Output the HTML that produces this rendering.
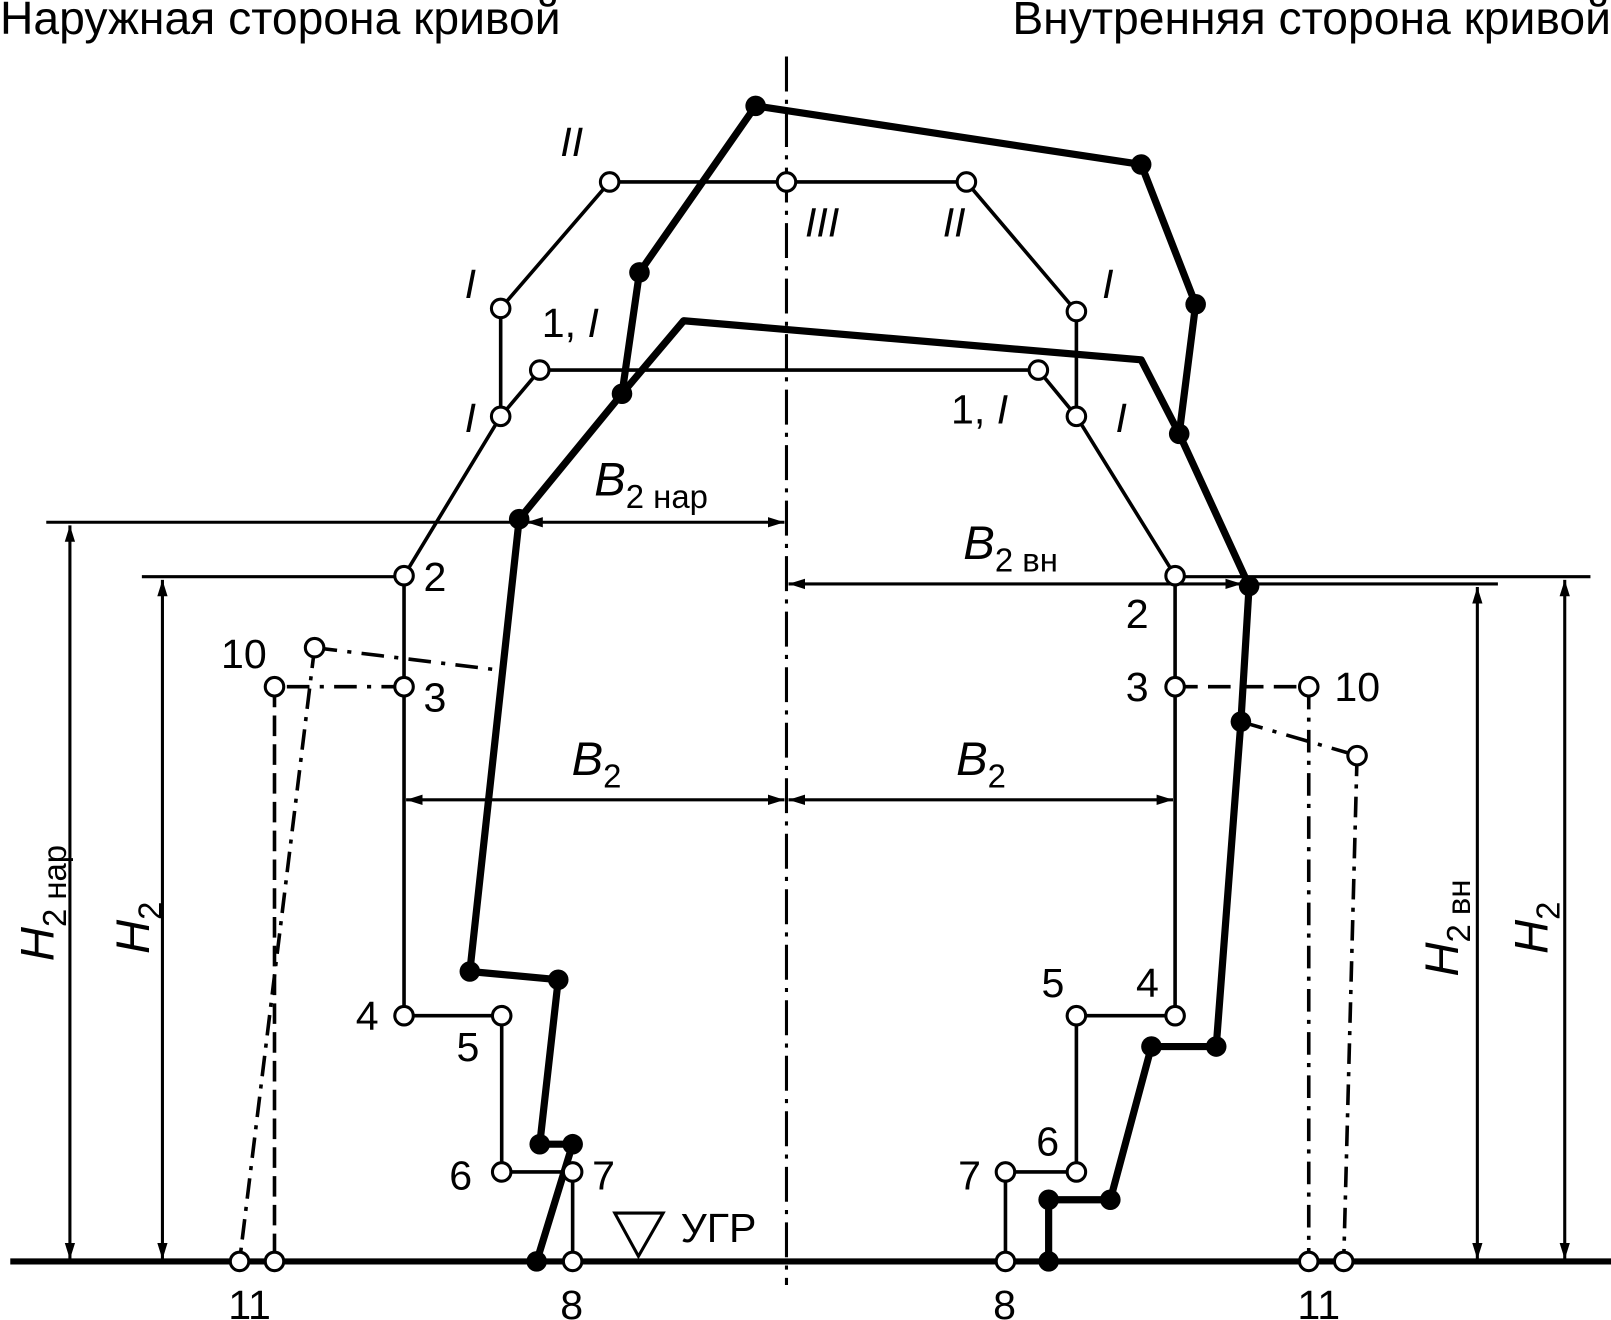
<!DOCTYPE html>
<html><head><meta charset="utf-8"><style>html,body{margin:0;padding:0;background:#fff}svg{display:block}</style></head>
<body>
<svg width="1611" height="1320" viewBox="0 0 1567 1284" preserveAspectRatio="none" xmlns="http://www.w3.org/2000/svg" font-family="Liberation Sans, sans-serif">
<defs>
<marker id="b" markerWidth="16" markerHeight="30" refX="16" refY="5" orient="auto-start-reverse" markerUnits="userSpaceOnUse" viewBox="0 0 16 10"><path d="M0,0 L16,5 L0,10 Z"/></marker>
</defs>
<g fill="#000" font-size="45">
<text x="0" y="33">Наружная сторона кривой</text>
<text x="1567" y="33" text-anchor="end">Внутренняя сторона кривой</text>
</g>
<line x1="765" y1="55" x2="765" y2="1250" stroke="#000" stroke-width="3" stroke-dasharray="34,8,4,8"/>
<line x1="10" y1="1227" x2="1567" y2="1227" stroke="#000" stroke-width="6"/>
<g stroke="#000" stroke-width="3" fill="none">
<line x1="45" y1="508" x2="505" y2="508"/>
<line x1="138" y1="561" x2="393" y2="561"/>
<line x1="1143" y1="561" x2="1547" y2="561"/>
<line x1="1215" y1="568" x2="1457" y2="568"/>
</g>
<g stroke="#000" stroke-width="3" fill="none" marker-start="url(#b)" marker-end="url(#b)">
<line x1="68" y1="1225" x2="68" y2="511"/>
<line x1="158" y1="1225" x2="158" y2="564"/>
<line x1="1437" y1="1225" x2="1437" y2="571"/>
<line x1="1522" y1="1225" x2="1522" y2="564"/>
<line x1="512" y1="508" x2="763" y2="508"/>
<line x1="767" y1="568" x2="1208" y2="568"/>
<line x1="395" y1="778" x2="763" y2="778"/>
<line x1="767" y1="778" x2="1141" y2="778"/>
</g>
<g stroke="#000" stroke-width="3.5" fill="none">
<polyline points="557,1227 557,1140 488,1140 488,988 393,988 393,560 487,405 525,360 1010,360 1047,405 1143,560 1143,988 1047,988 1047,1140 978,1140 978,1227"/>
<polyline points="487,405 487,300 593,177 940,177 1047,303 1047,405"/>
</g>
<g stroke="#000" stroke-width="3.5" fill="none">
<line x1="393" y1="668" x2="267" y2="668" stroke-dasharray="22,10,4,10"/>
<line x1="267" y1="668" x2="267" y2="1227" stroke-dasharray="20,8"/>
<line x1="306" y1="630" x2="487" y2="652" stroke-dasharray="22,10,4,10"/>
<line x1="306" y1="630" x2="233" y2="1227" stroke-dasharray="20,8,4,8"/>
<line x1="1143" y1="668" x2="1273" y2="668" stroke-dasharray="22,10"/>
<line x1="1273" y1="668" x2="1273" y2="1227" stroke-dasharray="22,8,4,8"/>
<line x1="1207" y1="702" x2="1320" y2="735" stroke-dasharray="22,10,4,10"/>
<line x1="1320" y1="735" x2="1307" y2="1227" stroke-dasharray="20,8,4,8"/>
</g>
<g stroke="#000" stroke-width="7" fill="none" stroke-linejoin="round">
<polyline points="605,383 622,265 735,103 1110,160 1163,296 1147,422"/>
<polyline points="522,1227 557,1113 525,1113 543,953 457,945 505,505 605,383 665,312 1110,350 1147,422 1215,570 1207,702 1183,1018 1120,1018 1080,1167 1020,1167 1020,1227"/>
</g>
<g fill="#000">
<circle cx="735" cy="103" r="10"/><circle cx="1110" cy="160" r="10"/><circle cx="1163" cy="296" r="10"/>
<circle cx="622" cy="265" r="10"/><circle cx="605" cy="383" r="10"/><circle cx="1147" cy="422" r="10"/>
<circle cx="505" cy="505" r="10"/><circle cx="1215" cy="570" r="10"/><circle cx="1207" cy="702" r="10"/>
<circle cx="457" cy="945" r="10"/><circle cx="543" cy="953" r="10"/><circle cx="525" cy="1113" r="10"/><circle cx="557" cy="1113" r="10"/><circle cx="522" cy="1227" r="10"/>
<circle cx="1183" cy="1018" r="10"/><circle cx="1120" cy="1018" r="10"/><circle cx="1080" cy="1167" r="10"/><circle cx="1020" cy="1167" r="10"/><circle cx="1020" cy="1227" r="10"/>
</g>
<g fill="#fff" stroke="#000" stroke-width="3">
<circle cx="593" cy="177" r="9"/><circle cx="765" cy="177" r="9"/><circle cx="940" cy="177" r="9"/>
<circle cx="487" cy="300" r="9"/><circle cx="1047" cy="303" r="9"/>
<circle cx="525" cy="360" r="9"/><circle cx="1010" cy="360" r="9"/>
<circle cx="487" cy="405" r="9"/><circle cx="1047" cy="405" r="9"/>
<circle cx="393" cy="560" r="9"/><circle cx="1143" cy="560" r="9"/>
<circle cx="306" cy="630" r="9"/><circle cx="267" cy="668" r="9"/><circle cx="393" cy="668" r="9"/>
<circle cx="1143" cy="668" r="9"/><circle cx="1273" cy="668" r="9"/><circle cx="1320" cy="735" r="9"/>
<circle cx="393" cy="988" r="9"/><circle cx="488" cy="988" r="9"/><circle cx="1143" cy="988" r="9"/><circle cx="1047" cy="988" r="9"/>
<circle cx="488" cy="1140" r="9"/><circle cx="557" cy="1140" r="9"/><circle cx="1047" cy="1140" r="9"/><circle cx="978" cy="1140" r="9"/>
<circle cx="233" cy="1227" r="9"/><circle cx="267" cy="1227" r="9"/><circle cx="557" cy="1227" r="9"/>
<circle cx="978" cy="1227" r="9"/><circle cx="1273" cy="1227" r="9"/><circle cx="1307" cy="1227" r="9"/>
</g>
<path d="M598,1180 L645,1180 L621,1222 Z" fill="none" stroke="#000" stroke-width="3"/>
<g fill="#000" font-size="40">
<text x="662" y="1208">УГР</text>
<text x="412" y="575">2</text><text x="1095" y="611">2</text>
<text x="412" y="692">3</text><text x="1095" y="682">3</text>
<text x="215" y="650">10</text><text x="1298" y="682">10</text>
<text x="346" y="1002">4</text><text x="1105" y="970">4</text>
<text x="444" y="1032">5</text><text x="1013" y="970">5</text>
<text x="437" y="1157">6</text><text x="1008" y="1124">6</text>
<text x="576" y="1157">7</text><text x="932" y="1157">7</text>
<text x="545" y="1283">8</text><text x="966" y="1283">8</text>
<text x="222" y="1283">11</text><text x="1262" y="1283">11</text>
<text x="527" y="328">1, <tspan font-style="italic">I</tspan></text>
<text x="925" y="412">1, <tspan font-style="italic">I</tspan></text>
</g>
<g fill="#000" font-size="40" font-style="italic">
<text x="545" y="152">II</text>
<text x="917" y="230">II</text>
<text x="783" y="230">III</text>
<text x="452" y="290">I</text><text x="1072" y="290">I</text>
<text x="452" y="420">I</text><text x="1085" y="420">I</text>
</g>
<g fill="#000" font-size="46" font-style="italic">
<text x="578" y="482">B<tspan font-size="32" font-style="normal" dy="12">2 нар</tspan></text>
<text x="937" y="544">B<tspan font-size="32" font-style="normal" dy="12">2 вн</tspan></text>
<text x="556" y="754">B<tspan font-size="32" font-style="normal" dy="12">2</tspan></text>
<text x="930" y="754">B<tspan font-size="32" font-style="normal" dy="12">2</tspan></text>
<text transform="translate(52,935) rotate(-90)">H<tspan font-size="32" font-style="normal" dy="12">2 нар</tspan></text>
<text transform="translate(145,928) rotate(-90)">H<tspan font-size="32" font-style="normal" dy="12">2</tspan></text>
<text transform="translate(1418,950) rotate(-90)">H<tspan font-size="32" font-style="normal" dy="12">2 вн</tspan></text>
<text transform="translate(1505,928) rotate(-90)">H<tspan font-size="32" font-style="normal" dy="12">2</tspan></text>
</g>
</svg>
</body></html>
